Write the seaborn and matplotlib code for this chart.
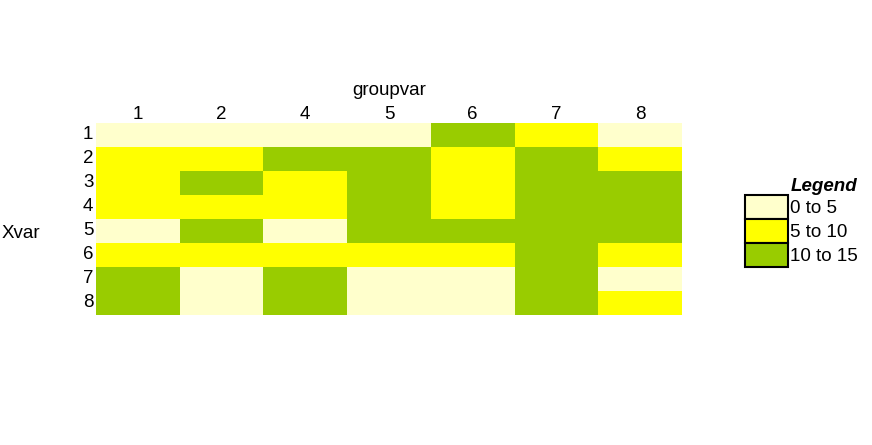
import numpy as np
import pandas as pd
import matplotlib
matplotlib.use('Agg')
import matplotlib.pyplot as plt
from matplotlib.colors import ListedColormap, BoundaryNorm
from matplotlib.patches import Patch
import seaborn as sns

groupvar = [1, 2, 4, 5, 6, 7, 8]
xvar = [1, 2, 3, 4, 5, 6, 7, 8]

# cell values, one list per Xvar row (columns follow groupvar)
row1 = [3, 3, 3, 3, 12, 7, 3]
row2 = [7, 7, 12, 12, 7, 12, 7]
row3 = [7, 12, 7, 12, 7, 12, 12]
row4 = [7, 7, 7, 12, 7, 12, 12]
row5 = [3, 12, 3, 12, 12, 12, 12]
row6 = [7, 7, 7, 7, 7, 12, 7]
row7 = [12, 3, 12, 3, 3, 12, 3]
row8 = [12, 3, 12, 3, 3, 12, 7]

bins = [0, 5, 10, 15]
bin_labels = ['0 to 5', '5 to 10', '10 to 15']
colors = ['#FFFFCC', '#FFFF00', '#99CC00']

df = pd.DataFrame([row1, row2, row3, row4, row5, row6, row7, row8],
                  index=xvar, columns=groupvar)

sns.set_style('white')
plt.rcParams['font.family'] = ['Liberation Sans', 'DejaVu Sans']
plt.rcParams['text.color'] = 'black'
plt.rcParams['xtick.color'] = 'black'
plt.rcParams['ytick.color'] = 'black'
plt.rcParams['axes.labelcolor'] = 'black'

fs = 13.5

fig = plt.figure(figsize=(8.72, 4.45), dpi=100)
ax = fig.add_axes([0.1101, 0.2921, 0.6720, 0.4322])

cmap = ListedColormap(colors)
norm = BoundaryNorm(bins, cmap.N)
sns.heatmap(df, ax=ax, cmap=cmap, norm=norm, cbar=False, linewidths=0)

ax.xaxis.tick_top()
ax.xaxis.set_label_position('top')
ax.tick_params(axis='x', length=0, labelsize=fs, pad=0)
ax.tick_params(axis='y', length=0, labelsize=fs, pad=2)
ax.set_yticklabels(ax.get_yticklabels(), rotation=0)
ax.set_xticklabels(ax.get_xticklabels(), rotation=0)
ax.set_xlabel('groupvar', fontsize=fs, labelpad=8)
ax.set_ylabel('')
fig.text(2 / 872, 1 - 233 / 445, 'Xvar', fontsize=fs, va='center', ha='left')

handles = [Patch(facecolor=c, edgecolor='black', linewidth=1.5) for c in colors]
leg = ax.legend(handles, bin_labels, loc='upper left',
                bbox_to_anchor=(745 / 872, 1 - 178 / 445),
                bbox_transform=fig.transFigure, frameon=False,
                fontsize=fs, handlelength=2.29, handleheight=1.59,
                handletextpad=0.1, labelspacing=0, borderpad=0,
                borderaxespad=0, title='Legend', alignment='right',
                title_fontproperties={'weight': 'bold', 'style': 'italic', 'size': fs})

fig.savefig('out.png', dpi=100, facecolor='white')
